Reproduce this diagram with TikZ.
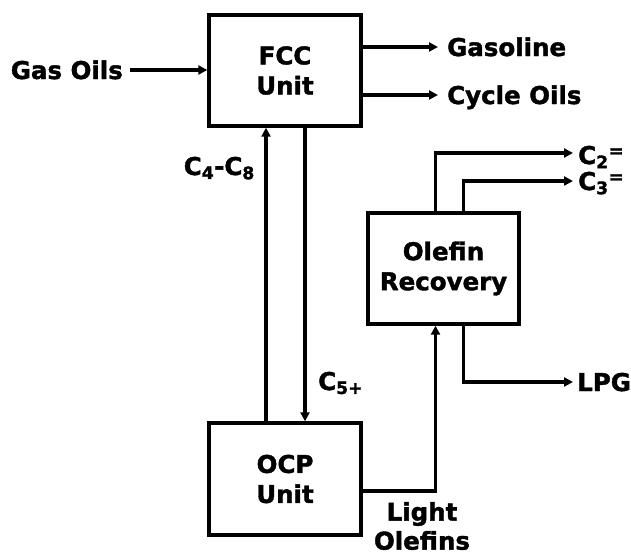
\documentclass[tikz,border=0pt]{standalone}
\usepackage{fontspec}
\setmainfont{DejaVu Sans}[BoldFeatures={FakeBold=1.6}]
\usepackage{tikz}
\usetikzlibrary{arrows.meta}
\usetikzlibrary{calc,positioning}
\newcommand{\dbl}{\raisebox{7pt}{\fontsize{18}{18}\selectfont=}}

\begin{document}
\begin{tikzpicture}[x=1pt, y=-1pt,
    every node/.style={font=\fontsize{24.5}{30}\selectfont\bfseries},
    unit/.style={draw, line width=3.4pt, inner sep=0pt, align=center, minimum width=152pt, minimum height=111pt},
    stream/.style={inner sep=0pt, text height=18pt, text depth=0pt},
    flow/.style={line width=3.4pt, -{Triangle[length=9pt, width=9pt]}}]
    \useasboundingbox (0,0) rectangle (631,557);

    \node [unit] (fcc) at (285,70.5) {FCC\\Unit};
    \node [unit, minimum width=151pt] (olefin) at (443.5,268.5) {Olefin\\Recovery};
    \node [unit, minimum height=112pt] (ocp) at (285,479) {OCP\\Unit};

    \node [stream, anchor=east] (gas) at (123,70) {Gas Oils};
    \node [stream, anchor=west] (gasoline) at (447,47) {Gasoline};
    \node [stream, anchor=west] (cycle) at (447,95) {Cycle Oils};
    \node [stream, anchor=east] (c48) at (255,166) {C\textsubscript{4}-C\textsubscript{8}};
    \node [stream, anchor=west] (c5) at (318,381) {C\textsubscript{5+}};
    \node [stream, anchor=west] (c2) at (578,155) {C\textsubscript{2}\dbl};
    \node [stream, anchor=west] (c3) at (578,181) {C\textsubscript{3}\dbl};
    \node [stream, anchor=west] (lpg) at (577,382) {LPG};
    \node [inner sep=0pt, align=center, font=\fontsize{24.5}{29}\selectfont\bfseries] (light) at (422,526) {Light\\Olefins};

    \draw [flow, shorten <=7pt] (gas.east) -- (gas.east -| fcc.west);
    \draw [flow, shorten >=9pt] (fcc.east |- gasoline) -- (gasoline.west);
    \draw [flow, shorten >=9pt] (fcc.east |- cycle) -- (cycle.west);
    \draw [flow] ([xshift=-19pt]ocp.north) -- ([xshift=-19pt]fcc.south);
    \draw [flow] ([xshift=20pt]fcc.south) -- ([xshift=20pt]ocp.north);
    \draw [flow] ([yshift=-12pt]ocp.east) -| ([xshift=-8pt]olefin.south);
    \draw [flow, shorten >=4pt] ([xshift=20pt]olefin.south) |- (lpg.west);
    \draw [flow, shorten >=5pt] ([xshift=-8pt]olefin.north) |- ([yshift=2pt]c2.west);
    \draw [flow, shorten >=5pt] ([xshift=20pt]olefin.north) |- (c3.west);
\end{tikzpicture}
\end{document}
